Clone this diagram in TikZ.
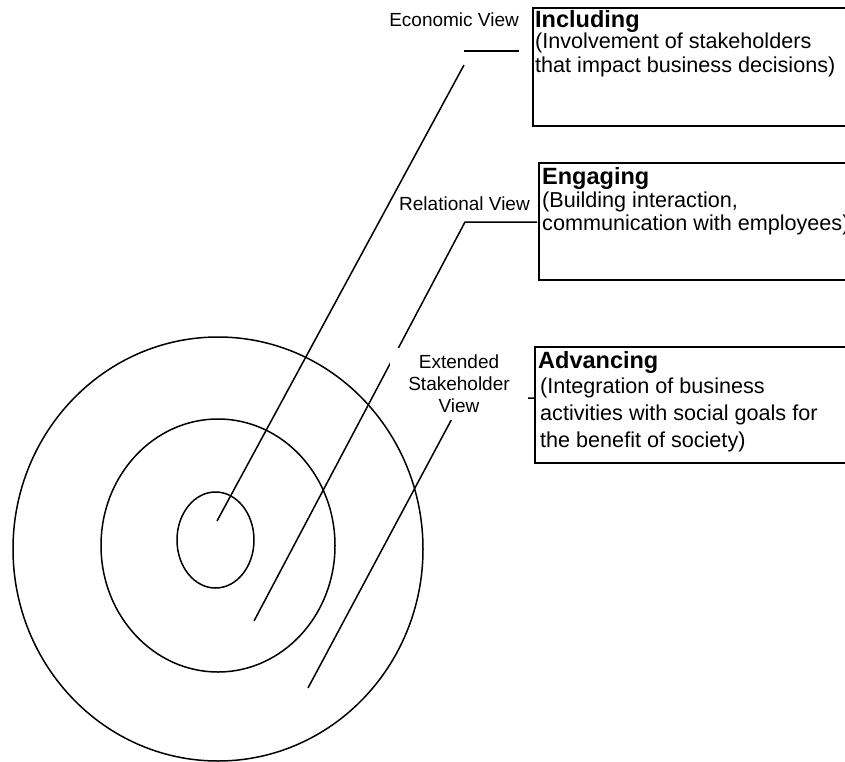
\documentclass[tikz,border=0pt]{standalone}
\usepackage{fontspec}
\setmainfont{Liberation Sans}
\usetikzlibrary{shapes.geometric}
\begin{document}
\begin{tikzpicture}[x=1pt,y=-1pt,
  ring/.style={draw, ellipse, line width=1.5pt, inner sep=0pt},
  leader/.style={draw, line width=1.5pt},
  boxline/.style={draw, line width=2pt},
  titletext/.style={font=\fontsize{23.5}{26}\selectfont\bfseries, anchor=base west, inner sep=0pt},
  bodytext/.style={font=\fontsize{21.6}{24}\selectfont, anchor=base west, inner sep=0pt, align=left},
  viewlabel/.style={font=\fontsize{19}{22}\selectfont, inner sep=0pt}
]
\useasboundingbox (0,0) rectangle (845,762);

% concentric rings
\node[ring, minimum width=410pt, minimum height=424pt] (outer) at (218,549) {};
\node[ring, minimum width=234pt, minimum height=253pt] (middle) at (218,545.5) {};
\node[ring, minimum width=77pt, minimum height=96pt] (inner) at (215.5,540) {};

% boxes (right side runs off the page)
\coordinate (b1ne) at (845,8);   \coordinate (b1nw) at (533,8);
\coordinate (b1sw) at (533,126); \coordinate (b1se) at (845,126);
\coordinate (b2ne) at (845,163); \coordinate (b2nw) at (539,163);
\coordinate (b2sw) at (539,280); \coordinate (b2se) at (845,280);
\coordinate (b3ne) at (845,347); \coordinate (b3nw) at (535,347);
\coordinate (b3sw) at (535,463); \coordinate (b3se) at (845,463);
\draw[boxline] (b1ne) -- (b1nw) -- (b1sw) -- (b1se);
\draw[boxline] (b2ne) -- (b2nw) -- (b2sw) -- (b2se);
\draw[boxline] (b3ne) -- (b3nw) -- (b3sw) -- (b3se);

% leader lines
\coordinate (uL) at (464,51);   \coordinate (uR) at (519,51);
\coordinate (eTop) at (464,65); \coordinate (eEnd) at (217,521);
\coordinate (b2w) at (537,222); \coordinate (rBend) at (465,222); \coordinate (rEnd) at (254,621);
\coordinate (b3w) at (534,398); \coordinate (xBend) at (463,398); \coordinate (xEnd) at (308,688);
\draw[leader] (uL) -- (uR);
\draw[leader] (eTop) -- (eEnd);
\draw[leader] (b2w) -- (rBend) -- (rEnd);
\draw[leader] (b3w) -- (xBend) -- (xEnd);

% view labels
\node[viewlabel, anchor=base east] (ecoLbl) at (519,27) {Economic View};
\node[viewlabel, anchor=base east] (relLbl) at (530,210) {Relational View};
\node[viewlabel, fill=white, align=center, minimum width=138pt, minimum height=72pt] (extLbl) at (459,384) {Extended\\Stakeholder\\View};

% box texts (body nodes anchored on the baseline of their last line)
\node[titletext] (t1) at (535,28) {Including};
\node[bodytext] (d1) at (535,73) {(Involvement of stakeholders\\that impact business decisions)};
\node[titletext] (t2) at (542,185) {Engaging};
\node[bodytext, font=\fontsize{21.6}{23}\selectfont] (d2) at (542,230) {(Building interaction,\\communication with employees)};
\node[titletext] (t3) at (538,368) {Advancing};
\node[bodytext, font=\fontsize{21.6}{27}\selectfont] (d3) at (540,447) {(Integration of business\\activities with social goals for\\the benefit of society)};
\end{tikzpicture}
\end{document}
